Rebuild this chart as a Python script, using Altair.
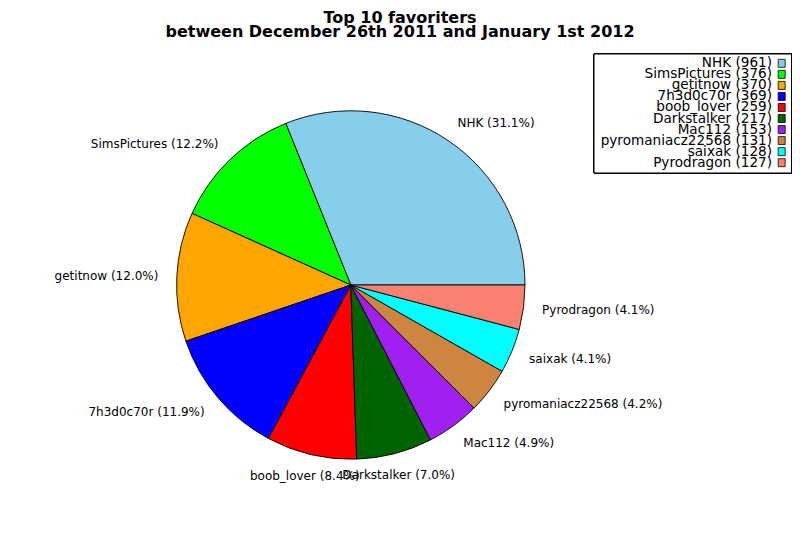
import math
import altair as alt
import pandas as pd

# ---- data ----
names = ["NHK", "SimsPictures", "getitnow", "7h3d0c70r", "boob_lover",
         "Darkstalker", "Mac112", "pyromaniacz22568", "saixak", "Pyrodragon"]
values = [961, 376, 370, 369, 259, 217, 153, 131, 128, 127]
colors = ["#87ceeb", "#00ff00", "#ffa500", "#0000ff", "#ff0000",
          "#006400", "#a020f0", "#cd853f", "#00ffff", "#fa8072"]
title_lines = ["Top 10 favoriters",
               "between December 26th 2011 and January 1st 2012"]

total = sum(values)
df = pd.DataFrame({
    "name": names,
    "value": values,
    "idx": list(range(len(names))),
})
df["pie_label"] = [f"{n} ({v / total * 100:.1f}%)" for n, v in zip(names, values)]
df["legend_label"] = [f"{n} ({v})" for n, v in zip(names, values)]
legend_labels = list(df["legend_label"])

# ---- layout (chart coordinates) ----
PAD_TOP = 30
W, H = 784, 494
CX, CY = 342.8, 247
R = 174.2
LABEL_R = 196

theta_scale = alt.Scale(domain=[0, total],
                        range=[math.pi / 2, math.pi / 2 - 2 * math.pi])
color_enc = alt.Color("name:N", scale=alt.Scale(domain=names, range=colors),
                      legend=None)

pie = alt.Chart(df).mark_arc(radius=R, stroke="black", strokeWidth=0.9).encode(
    theta=alt.Theta("value:Q", stack=True, scale=theta_scale),
    color=color_enc,
    order=alt.Order("idx:Q"),
    x=alt.value(CX),
    y=alt.value(CY),
)

txt_base = (
    alt.Chart(df)
    .transform_window(cum="sum(value)", sort=[alt.SortField("idx")], frame=[None, 0])
    .transform_joinaggregate(total="sum(value)")
    .transform_calculate(mid="datum.cum - datum.value / 2")
    .transform_calculate(c="cos(2 * PI * datum.mid / datum.total)")
)

def label_layer(cond, align, dx):
    return txt_base.transform_filter(cond).mark_text(
        align=align, baseline="middle", radius=LABEL_R, dx=dx,
        font="DejaVu Sans", fontSize=12, color="black",
    ).encode(
        theta=alt.Theta("mid:Q", stack=False, scale=theta_scale),
        text="pie_label:N",
        x=alt.value(CX),
        y=alt.value(CY),
    )

lab_left = label_layer("datum.c > 0.3", "left", -3.1)
lab_right = label_layer("datum.c < -0.3", "right", 3.4)
lab_center = label_layer("datum.c >= -0.3 && datum.c <= 0.3", "center", -1.5)

# ---- legend (drawn as marks: labels on the left, swatches on the right) ----
legend_box = alt.Chart(df).mark_rect(
    fill="white", stroke="black", strokeWidth=1
).encode(
    x=alt.value(586), x2=alt.value(783.5),
    y=alt.value(16), y2=alt.value(135),
)

leg_y = alt.Y("legend_label:N", sort=legend_labels,
              scale=alt.Scale(type="point", range=[25.3, 124.7], padding=0),
              axis=None)

legend_text = alt.Chart(df).mark_text(
    align="right", baseline="middle", font="DejaVu Sans", fontSize=13.6,
    color="black",
).encode(
    x=alt.value(764),
    y=leg_y,
    text="legend_label:N",
)

legend_swatch = alt.Chart(df).mark_point(
    shape="M-0.875,-1L0.875,-1L0.875,1L-0.875,1Z",
    size=64, filled=True, opacity=1, stroke="black", strokeWidth=0.8,
).encode(
    x=alt.value(773.7),
    y=leg_y,
    color=color_enc,
)

chart = alt.layer(
    pie, lab_left, lab_right, lab_center, legend_box, legend_text, legend_swatch
).properties(
    width=W,
    height=H,
    padding={"top": PAD_TOP, "left": 0, "right": 0, "bottom": 0},
    autosize="none",
    background="white",
    title=alt.TitleParams(
        text=title_lines, font="DejaVu Sans", fontSize=16, fontWeight="bold",
        anchor="middle", offset=-2, lineHeight=13.6, color="black",
    ),
).configure_view(stroke=None)

chart.save("out.html", embed_options={"renderer": "svg", "actions": False})
